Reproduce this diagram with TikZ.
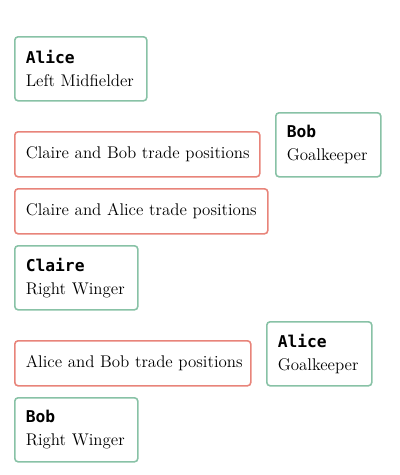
\documentclass[tikz,border=0pt]{standalone}
\usepackage{fontspec}
\newfontfamily\monob{DejaVu Sans Mono}[BoldFont={DejaVu Sans Mono Bold}]
\definecolor{agentgreen}{HTML}{88C2A6}
\definecolor{swapred}{HTML}{E8847A}
\newcommand{\who}[1]{{\monob\bfseries\fontsize{12.2}{17.25}\selectfont #1}}
\tikzset{
  boxbase/.style={rounded corners=2.5pt, line width=1.2pt, fill=white, anchor=north west,
    align=left, inner xsep=8.25pt, inner ysep=0pt,
    font=\fontsize{12.7}{17.25}\selectfont},
  agent/.style={boxbase, draw=agentgreen, minimum height=48pt},
  swap/.style={boxbase, draw=swapred, minimum height=33.75pt},
}
\begin{document}
\begin{tikzpicture}[x=0.75pt, y=-0.75pt]
\useasboundingbox (0,0) rectangle (400,475);
\node[agent, text width=82.5pt] (a1) at (14,36) {\mbox{\who{Alice}}\\\mbox{Left Midfielder}};
\node[agent, text width=62.25pt] (a2) at (275,112) {\mbox{\who{Bob}}\\\mbox{Goalkeeper}};
\node[swap, text width=167.25pt] (s1) at (14,131) {\mbox{Claire and Bob trade positions}};
\node[swap, text width=173.25pt] (s2) at (14,188) {\mbox{Claire and Alice trade positions}};
\node[agent, text width=75.75pt] (a3) at (14,245) {\mbox{\who{Claire}}\\\mbox{Right Winger}};
\node[swap, text width=160.5pt] (s3) at (14,340) {\mbox{Alice and Bob trade positions}};
\node[agent, text width=62.25pt] (a4) at (266,321) {\mbox{\who{Alice}}\\\mbox{Goalkeeper}};
\node[agent, text width=75.75pt] (a5) at (14,397) {\mbox{\who{Bob}}\\\mbox{Right Winger}};
\end{tikzpicture}
\end{document}
